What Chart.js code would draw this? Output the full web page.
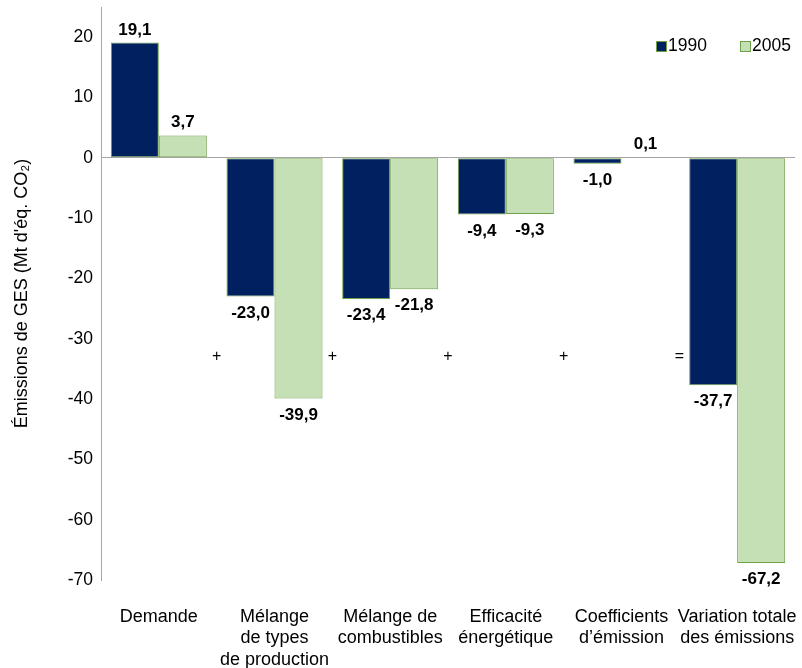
<!DOCTYPE html>
<html>
<head>
<meta charset="utf-8">
<script src="https://cdn.jsdelivr.net/npm/chart.js@4"></script>
<style>
  html, body { margin: 0; padding: 0; background: #ffffff; }
  #wrap { width: 802px; height: 668px; }
</style>
</head>
<body>
<div id="wrap"><canvas id="c" width="802" height="668"></canvas></div>
<script>
const categories = [
  ["Demande"],
  ["Mélange", "de types", "de production"],
  ["Mélange de", "combustibles"],
  ["Efficacité", "énergétique"],
  ["Coefficients", "d’émission"],
  ["Variation totale", "des émissions"]
];
const seriesNames = ["1990", "2005"];
const values1990 = [19.1, -23.0, -23.4, -9.4, -1.0, -37.7];
const values2005 = [3.7, -39.9, -21.8, -9.3, 0.1, -67.2];
const yTickValues = [-70, -60, -50, -40, -30, -20, -10, 0, 10, 20];
const operators = ["+", "+", "+", "+", "="];
const operatorLevel = -33;
const yTitle = "Émissions de GES (Mt d'éq. CO₂)";

const FONT = "'Liberation Sans', Arial, sans-serif";
const NAVY = "#002060";
const LIGHTGREEN = "#C5E0B4";
const BORDERGREEN = "#70A04A";
const AXISGRAY = "#A6A6A6";

function fmt(v) { return v.toFixed(1).replace('.', ','); }

const valueLabels = {
  id: 'valueLabels',
  afterDatasetsDraw(chart) {
    const ctx = chart.ctx;
    ctx.save();
    ctx.font = "bold 17px " + FONT;
    ctx.fillStyle = "#000000";
    ctx.textAlign = "center";
    chart.data.datasets.forEach((ds, di) => {
      const meta = chart.getDatasetMeta(di);
      meta.data.forEach((el, i) => {
        const v = ds.data[i];
        if (v >= 0) {
          ctx.textBaseline = "alphabetic";
          ctx.fillText(fmt(v), el.x, el.y - 8);
        } else {
          ctx.textBaseline = "top";
          ctx.fillText(fmt(v), el.x, el.y + 8);
        }
      });
    });
    ctx.restore();
  }
};

const operatorSigns = {
  id: 'operatorSigns',
  afterDatasetsDraw(chart) {
    const ctx = chart.ctx;
    const xs = chart.scales.x;
    const ys = chart.scales.y;
    ctx.save();
    ctx.font = "16px " + FONT;
    ctx.fillStyle = "#000000";
    ctx.textAlign = "center";
    ctx.textBaseline = "middle";
    operators.forEach((op, i) => {
      const x = (xs.getPixelForValue(i) + xs.getPixelForValue(i + 1)) / 2;
      ctx.fillText(op, x, ys.getPixelForValue(operatorLevel));
    });
    ctx.restore();
  }
};

const customLegend = {
  id: 'customLegend',
  afterDraw(chart) {
    const ctx = chart.ctx;
    const items = chart.data.datasets;
    const positions = [656, 740];
    ctx.save();
    ctx.font = "17.5px " + FONT;
    ctx.textBaseline = "middle";
    ctx.textAlign = "left";
    items.forEach((ds, i) => {
      const x = positions[i];
      const y = 46;
      ctx.fillStyle = ds.backgroundColor;
      ctx.fillRect(x, y - 5, 10, 10);
      ctx.strokeStyle = ds.borderColor;
      ctx.lineWidth = 1;
      ctx.strokeRect(x + 0.5, y - 4.5, 10, 10);
      ctx.fillStyle = "#000000";
      ctx.fillText(ds.label, x + 12, y);
    });
    ctx.restore();
  }
};

new Chart(document.getElementById('c'), {
  type: 'bar',
  data: {
    labels: categories,
    datasets: [
      { label: seriesNames[0], data: values1990, backgroundColor: NAVY, borderColor: BORDERGREEN, borderWidth: 1, borderSkipped: false },
      { label: seriesNames[1], data: values2005, backgroundColor: LIGHTGREEN, borderColor: BORDERGREEN, borderWidth: 1, borderSkipped: false }
    ]
  },
  options: {
    responsive: false,
    animation: false,
    devicePixelRatio: 1,
    layout: { padding: { top: 7, right: 7, bottom: 0, left: 0 } },
    datasets: { bar: { categoryPercentage: 0.83, barPercentage: 1.0 } },
    plugins: {
      legend: { display: false },
      tooltip: { enabled: false },
      title: { display: false }
    },
    scales: {
      x: {
        grid: { display: false, drawTicks: false },
        border: { display: false },
        ticks: {
          color: "#000000",
          font: { family: FONT, size: 18 },
          padding: 26,
          maxRotation: 0,
          autoSkip: false
        },
        afterFit(scale) {
          scale.height = 88;
          scale.paddingLeft = 0;
          scale.paddingRight = 0;
        }
      },
      y: {
        min: -70,
        max: 25,
        afterBuildTicks(scale) { scale.ticks = yTickValues.map(v => ({ value: v })); },
        grid: {
          drawTicks: false,
          color: (c) => (c.tick && c.tick.value === 0) ? AXISGRAY : 'rgba(0,0,0,0)',
          lineWidth: 1
        },
        border: { display: true, color: AXISGRAY, width: 1 },
        ticks: {
          color: "#000000",
          font: { family: FONT, size: 17.5 },
          padding: 8,
          callback: (v) => String(v)
        },
        title: {
          display: true,
          text: yTitle,
          color: "#000000",
          font: { family: FONT, size: 18 },
          padding: { top: 11, bottom: 0 }
        },
        afterFit(scale) {
          scale.width = 101;
          scale.paddingTop = 0;
          scale.paddingBottom = 0;
        }
      }
    }
  },
  plugins: [valueLabels, operatorSigns, customLegend]
});
</script>
</body>
</html>
